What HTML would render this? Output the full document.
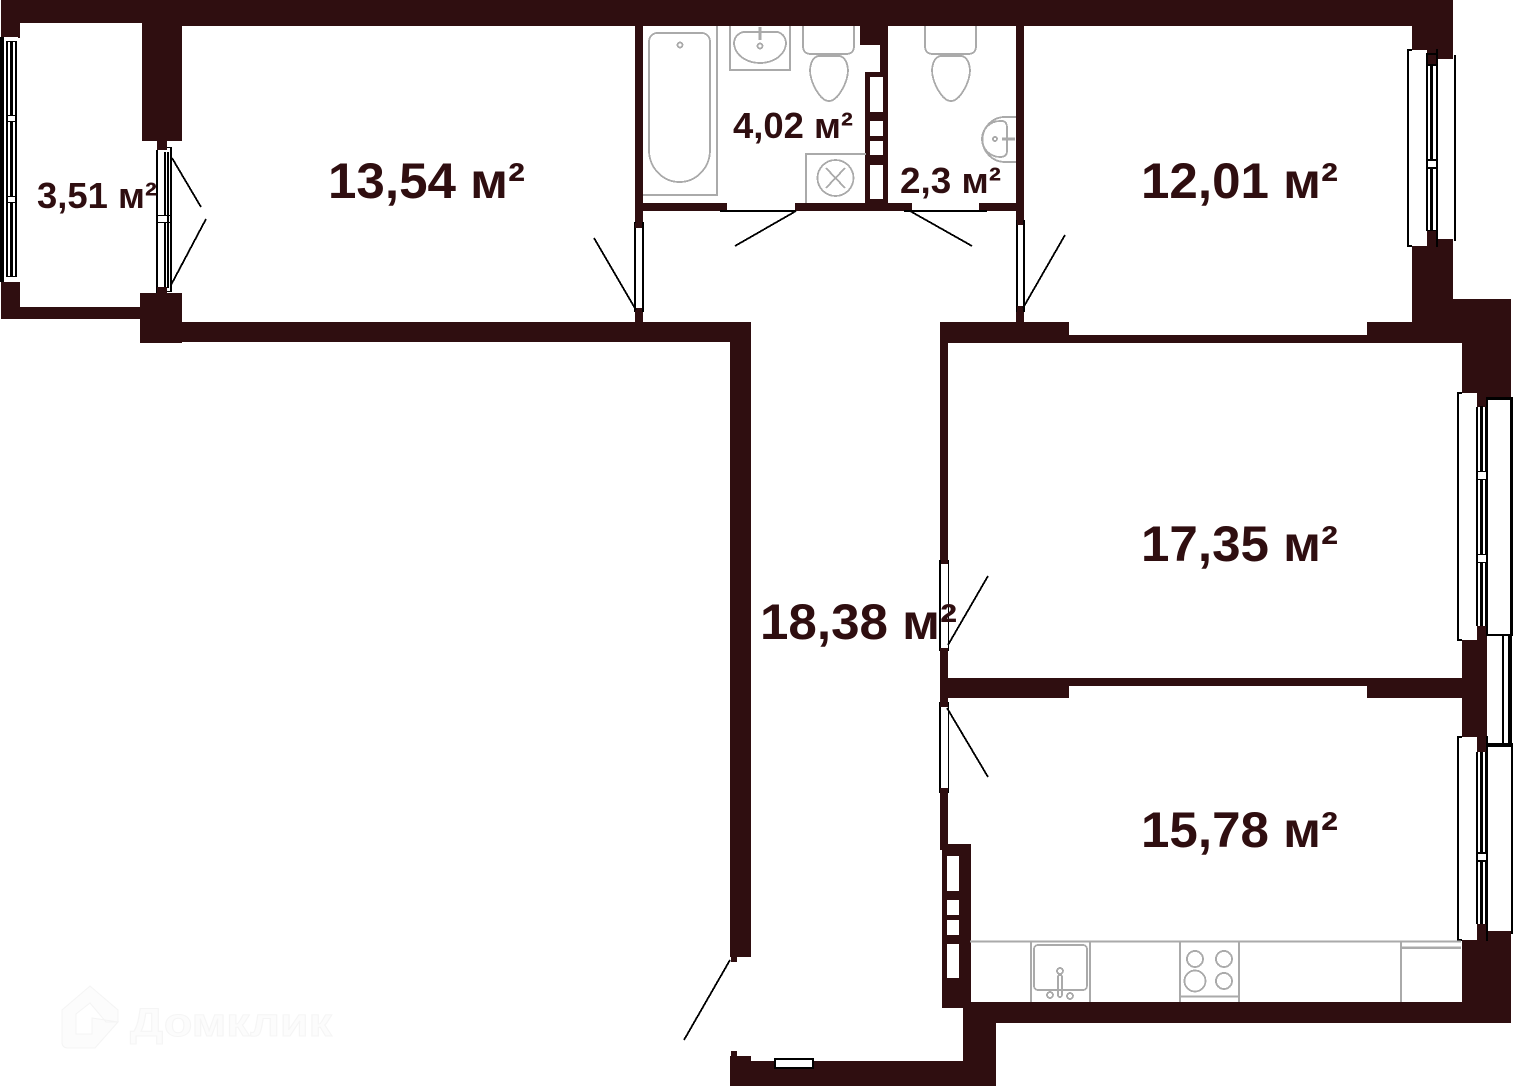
<!DOCTYPE html>
<html>
<head>
<meta charset="utf-8">
<style>
html,body{margin:0;padding:0;background:#fff;width:1513px;height:1087px;overflow:hidden}
svg{display:block}
.w{fill:#2f0e10}
.b{fill:#000}
.e{fill:#fff}
.f{fill:none;stroke:#aaa;stroke-width:1.8;shape-rendering:crispEdges}
.l{stroke:#000;stroke-width:1.8;fill:none;shape-rendering:crispEdges}
text.t{font-family:"Liberation Sans",sans-serif;font-weight:bold;fill:#2f0e10}
text.logo{font-family:"Liberation Sans",sans-serif;font-weight:bold;fill:#fcfcfc;stroke:#f5f5f5;stroke-width:1}
</style>
</head>
<body>
<svg width="1513" height="1087" viewBox="0 0 1513 1087" xmlns="http://www.w3.org/2000/svg">
<rect width="1513" height="1087" fill="#fff"/>

<!-- Logo -->
<g fill="#fcfcfc" stroke="#f4f4f4" stroke-width="1">
<path d="M62 1010 L90 986 L118 1010 V1022 H106 L90 1003 L76 1014 V1034 H92 V1018 L118 1022 L95 1048 H68 Q62 1048 62 1042 Z"/>
</g>
<text class="logo" x="130" y="1036" font-size="40" textLength="202" lengthAdjust="spacingAndGlyphs">Домклик</text>

<g shape-rendering="crispEdges">
<!-- Walls -->
<g class="w">
<rect x="1" y="0" width="1452" height="23"/>
<rect x="142" y="0" width="1311" height="26"/>
<rect x="1" y="0" width="19" height="38"/>
<rect x="142" y="0" width="40" height="141"/>
<rect x="157" y="141" width="10" height="10"/>
<rect x="1" y="282" width="19" height="37"/>
<rect x="1" y="307" width="140" height="12"/>
<rect x="140" y="293" width="42" height="50"/>
<rect x="140" y="322" width="610" height="20"/>
<rect x="730" y="322" width="21" height="635"/>
<rect x="731" y="957" width="6" height="5"/>
<rect x="635" y="26" width="8" height="202"/>
<rect x="635" y="312" width="8" height="10"/>
<rect x="643" y="203" width="84" height="8"/>
<rect x="795" y="203" width="117" height="8"/>
<rect x="979" y="203" width="37" height="8"/>
<rect x="1016" y="26" width="8" height="194"/>
<rect x="1016" y="312" width="8" height="10"/>
<rect x="860" y="26" width="28" height="19"/>
<rect x="880" y="45" width="8" height="27"/>
<rect x="865" y="72" width="23" height="131"/>
<!-- right upper -->
<rect x="1412" y="26" width="41" height="296"/>
<rect x="1412" y="299" width="99" height="44"/>
<rect x="1367" y="322" width="96" height="21"/>
<rect x="941" y="322" width="128" height="21"/>
<rect x="947" y="335" width="516" height="8"/>
<rect x="1462" y="343" width="49" height="55"/>
<rect x="1477" y="398" width="10" height="10"/>
<!-- corridor right wall -->
<rect x="940" y="322" width="8" height="242"/>
<rect x="940" y="648" width="8" height="58"/>
<rect x="940" y="790" width="8" height="60"/>
<rect x="940" y="678" width="129" height="20"/>
<rect x="1069" y="678" width="298" height="8"/>
<rect x="1367" y="678" width="95" height="20"/>
<rect x="1462" y="640" width="25" height="97"/>
<rect x="1477" y="626" width="10" height="14"/>
<rect x="1477" y="737" width="10" height="15"/>
<!-- lower right -->
<rect x="1477" y="924" width="10" height="16"/>
<rect x="1487" y="931" width="24" height="9"/>
<rect x="1462" y="940" width="49" height="83"/>
<rect x="963" y="1002" width="548" height="21"/>
<!-- kitchen shaft -->
<rect x="942" y="844" width="29" height="164"/>
<rect x="963" y="1002" width="33" height="84"/>
<rect x="730" y="1061" width="266" height="25"/>
<rect x="730" y="1056" width="21" height="5"/>
<rect x="731" y="1051" width="6" height="5"/>
</g>

<!-- Shaft holes -->
<g class="e">
<rect x="870" y="77" width="13" height="35"/>
<rect x="870" y="121" width="13" height="15"/>
<rect x="870" y="141" width="13" height="14"/>
<rect x="870" y="165" width="13" height="34"/>
<rect x="947" y="856" width="12" height="35"/>
<rect x="947" y="900" width="12" height="15"/>
<rect x="947" y="920" width="12" height="15"/>
<rect x="947" y="944" width="12" height="34"/>
</g>

<!-- Left balcony window -->
<g>
<rect class="e" x="0" y="37" width="18" height="245"/>
<rect class="b" x="0" y="37" width="4" height="245"/>
<rect class="b" x="6" y="41" width="2" height="236"/>
<rect class="b" x="10" y="41" width="3" height="236"/>
<rect class="b" x="15" y="41" width="2" height="236"/>
<rect class="b" x="6" y="41" width="11" height="1"/>
<rect class="b" x="6" y="276" width="11" height="1"/>
<rect class="e" x="8" y="116" width="7" height="5"/>
<rect class="b" x="7" y="115" width="10" height="1"/>
<rect class="b" x="7" y="121" width="10" height="1"/>
<rect class="e" x="8" y="197" width="7" height="5"/>
<rect class="b" x="7" y="196" width="10" height="1"/>
<rect class="b" x="7" y="202" width="10" height="1"/>
</g>

<!-- Balcony door -->
<g>
<rect class="e" x="157" y="150" width="14" height="143"/>
<rect class="b" x="156" y="150" width="2" height="143"/>
<rect class="b" x="164" y="152" width="2" height="136"/>
<rect class="b" x="167" y="152" width="2" height="136"/>
<rect class="b" x="170" y="147" width="2" height="145"/>
<rect class="b" x="167" y="147" width="4" height="1"/>
<rect class="b" x="167" y="291" width="4" height="1"/>
<rect class="e" x="158" y="216" width="9" height="6"/>
<rect class="b" x="158" y="215" width="12" height="1"/>
<rect class="b" x="158" y="222" width="12" height="1"/>
<rect class="w" x="157" y="287" width="10" height="8"/>
</g>

<!-- Interior doors -->
<g>
<rect class="e" x="635" y="228" width="8" height="81"/>
<rect class="b" x="634" y="222" width="2" height="90"/>
<rect class="b" x="642" y="222" width="2" height="90"/>
<rect class="w" x="635" y="223" width="7" height="5"/>
<rect class="w" x="635" y="308" width="7" height="5"/>

<rect class="e" x="1016" y="228" width="8" height="81"/>
<rect class="b" x="1016" y="220" width="2" height="92"/>
<rect class="b" x="1023" y="220" width="2" height="92"/>
<rect class="w" x="1017" y="220" width="6" height="5"/>
<rect class="w" x="1017" y="306" width="6" height="6"/>

<rect class="e" x="940" y="564" width="9" height="84"/>
<rect class="b" x="939" y="560" width="2" height="91"/>
<rect class="b" x="948" y="560" width="1" height="91"/>
<rect class="w" x="940" y="648" width="8" height="3"/>

<rect class="e" x="940" y="706" width="9" height="84"/>
<rect class="b" x="939" y="702" width="2" height="91"/>
<rect class="b" x="948" y="702" width="1" height="91"/>
<rect class="w" x="940" y="702" width="8" height="5"/>
<rect class="w" x="940" y="788" width="8" height="6"/>

<rect class="b" x="720" y="210" width="76" height="2"/>
<rect class="b" x="904" y="210" width="83" height="2"/>
</g>

<!-- Upper right window -->
<g>
<rect class="e" x="1408" y="50" width="19" height="196"/>
<rect class="e" x="1427" y="54" width="10" height="177"/>
<rect class="e" x="1437" y="59" width="18" height="180"/>
<rect class="b" x="1407" y="49" width="2" height="198"/>
<rect class="b" x="1407" y="49" width="5" height="2"/>
<rect class="b" x="1407" y="245" width="5" height="2"/>
<rect class="w" x="1428" y="54" width="9" height="11"/>
<rect class="b" x="1426" y="53" width="2" height="178"/>
<rect class="b" x="1426" y="53" width="11" height="2"/>
<rect class="b" x="1426" y="64" width="11" height="2"/>
<rect class="b" x="1430" y="65" width="3" height="166"/>
<rect class="b" x="1436" y="49" width="2" height="198"/>
<rect class="b" x="1454" y="55" width="2" height="186"/>
<rect class="e" x="1428" y="160" width="8" height="8"/>
<rect class="b" x="1427" y="159" width="9" height="2"/>
<rect class="b" x="1427" y="167" width="9" height="2"/>
<rect class="b" x="1426" y="230" width="10" height="1"/>
</g>

<!-- Right windows middle -->
<g>
<rect class="e" x="1458" y="393" width="19" height="247"/>
<rect class="e" x="1477" y="407" width="10" height="219"/>
<rect class="b" x="1457" y="393" width="2" height="247"/>
<rect class="b" x="1457" y="392" width="5" height="2"/>
<rect class="b" x="1457" y="639" width="5" height="2"/>
<rect class="b" x="1476" y="407" width="2" height="219"/>
<rect class="b" x="1480" y="406" width="3" height="220"/>
<rect class="b" x="1485" y="407" width="2" height="219"/>
<rect class="e" x="1478" y="472" width="8" height="7"/>
<rect class="b" x="1477" y="471" width="10" height="1"/>
<rect class="b" x="1477" y="479" width="10" height="1"/>
<rect class="e" x="1478" y="555" width="8" height="7"/>
<rect class="b" x="1477" y="554" width="10" height="1"/>
<rect class="b" x="1477" y="562" width="10" height="1"/>
<rect class="e" x="1487" y="398" width="24" height="237"/>
<rect class="b" x="1486" y="397" width="27" height="3"/>
<rect class="b" x="1486" y="397" width="2" height="239"/>
<rect class="b" x="1510" y="397" width="3" height="239"/>
<rect class="b" x="1486" y="634" width="27" height="2"/>
<!-- between -->
<rect class="b" x="1502" y="636" width="2" height="108"/>
<rect class="b" x="1508" y="636" width="4" height="108"/>
<rect class="b" x="1486" y="743" width="27" height="4"/>
</g>

<!-- Right windows lower -->
<g>
<rect class="e" x="1458" y="737" width="19" height="203"/>
<rect class="e" x="1477" y="752" width="10" height="172"/>
<rect class="e" x="1488" y="747" width="24" height="184"/>
<rect class="b" x="1457" y="736" width="2" height="205"/>
<rect class="b" x="1457" y="736" width="5" height="2"/>
<rect class="b" x="1457" y="939" width="5" height="2"/>
<rect class="b" x="1476" y="752" width="2" height="172"/>
<rect class="b" x="1480" y="752" width="3" height="172"/>
<rect class="b" x="1485" y="752" width="1" height="172"/>
<rect class="e" x="1478" y="853" width="8" height="8"/>
<rect class="b" x="1477" y="852" width="10" height="2"/>
<rect class="b" x="1477" y="860" width="10" height="2"/>
<rect class="b" x="1486" y="736" width="2" height="205"/>
<rect class="b" x="1511" y="745" width="2" height="189"/>
</g>

<!-- Entrance small window -->
<rect x="775" y="1059" width="38" height="9" fill="#fff" stroke="#000" stroke-width="2"/>
</g>

<!-- Door swing lines -->
<g class="l">
<line x1="172" y1="158" x2="201" y2="207"/>
<line x1="206" y1="219" x2="171" y2="285"/>
<line x1="594" y1="238" x2="636" y2="310"/>
<line x1="1065" y1="235" x2="1023" y2="308"/>
<line x1="796" y1="211" x2="735" y2="246"/>
<line x1="910" y1="211" x2="972" y2="246"/>
<line x1="988" y1="576" x2="948" y2="645"/>
<line x1="947" y1="708" x2="988" y2="777"/>
<line x1="730" y1="960" x2="684" y2="1040"/>
</g>

<!-- Fixtures -->
<g class="f">
<!-- Bath -->
<path d="M717 26 V195 H643"/>
<path d="M656 33 H703 Q710 35 710 42 V150 A30.500 32 0 0 1 649 150 V42 Q649 35 656 33 Z"/>
<circle cx="680" cy="45" r="2.500"/>
<!-- Basin -->
<path d="M730 26 V70 H790 V26"/>
<path d="M743 32 H778 Q786 35 786 44 C784 58 770 63 760 63 C750 63 736 58 734 44 Q734 35 743 32 Z"/>
<path d="M760 27 V40" stroke-width="3"/>
<circle cx="760" cy="46" r="2.500"/>
<!-- Toilet 1 -->
<path d="M803 26 V46 Q803 54 811 54 H846 Q854 54 854 46 V26"/>
<path d="M818 56 H840 Q847 58 848 70 C848 82 838 101 829 101 C820 101 810 82 810 70 Q811 58 818 56 Z"/>
<!-- Toilet 2 -->
<path d="M925 26 V46 Q925 54 933 54 H968 Q976 54 976 46 V26"/>
<path d="M940 56 H962 Q969 58 970 70 C970 82 960 101 951 101 C942 101 932 82 932 70 Q933 58 940 56 Z"/>
<!-- Vent -->
<path d="M866 154 H806 V203"/>
<circle cx="835.500" cy="178" r="18"/>
<path d="M826 168 L845 188 M845 168 L826 188"/>
<!-- Small basin -->
<path d="M1016 117 H1005 A22.500 22.500 0 0 0 1005 162 H1016"/>
<path d="M1000 121 H1003 Q1007 122 1007 128 V151 Q1007 157 1000 157 A18 18 0 0 1 1000 121 Z"/>
<circle cx="995" cy="139" r="2"/>
<path d="M1002 139 H1015" stroke-width="3"/>
<!-- Counter -->
<path d="M970 941.500 H1461"/>
<path d="M1031 942 V1002 M1090 942 V1002 M1180 942 V1002 M1239 942 V1002 M1401 942 V1002"/>
<path d="M1401 947.500 H1461" stroke-width="2.500"/>
<!-- Sink -->
<rect x="1034" y="945" width="53" height="45" rx="4"/>
<circle cx="1060" cy="971" r="3"/>
<rect x="1058" y="975" width="4" height="22" rx="2"/>
<circle cx="1050" cy="995" r="3"/>
<circle cx="1070" cy="996" r="3"/>
<!-- Stove -->
<path d="M1180 996.500 H1239"/>
<circle cx="1195" cy="959" r="8"/>
<circle cx="1224" cy="959" r="8"/>
<circle cx="1195" cy="981" r="10.500"/>
<circle cx="1224" cy="981" r="8"/>
</g>

<!-- Labels -->
<text class="t" x="328" y="198" font-size="50" textLength="197" lengthAdjust="spacingAndGlyphs">13,54 м²</text>
<text class="t" x="1141" y="198" font-size="50" textLength="197" lengthAdjust="spacingAndGlyphs">12,01 м²</text>
<text class="t" x="1141" y="561" font-size="50" textLength="197" lengthAdjust="spacingAndGlyphs">17,35 м²</text>
<text class="t" x="1141" y="847" font-size="50" textLength="197" lengthAdjust="spacingAndGlyphs">15,78 м²</text>
<text class="t" x="760" y="639" font-size="50" textLength="197" lengthAdjust="spacingAndGlyphs">18,38 м²</text>
<text class="t" x="37" y="208" font-size="36" textLength="120" lengthAdjust="spacingAndGlyphs">3,51 м²</text>
<text class="t" x="733" y="138" font-size="36" textLength="120" lengthAdjust="spacingAndGlyphs">4,02 м²</text>
<text class="t" x="900" y="193" font-size="36" textLength="101" lengthAdjust="spacingAndGlyphs">2,3 м²</text>
</svg>
</body>
</html>
